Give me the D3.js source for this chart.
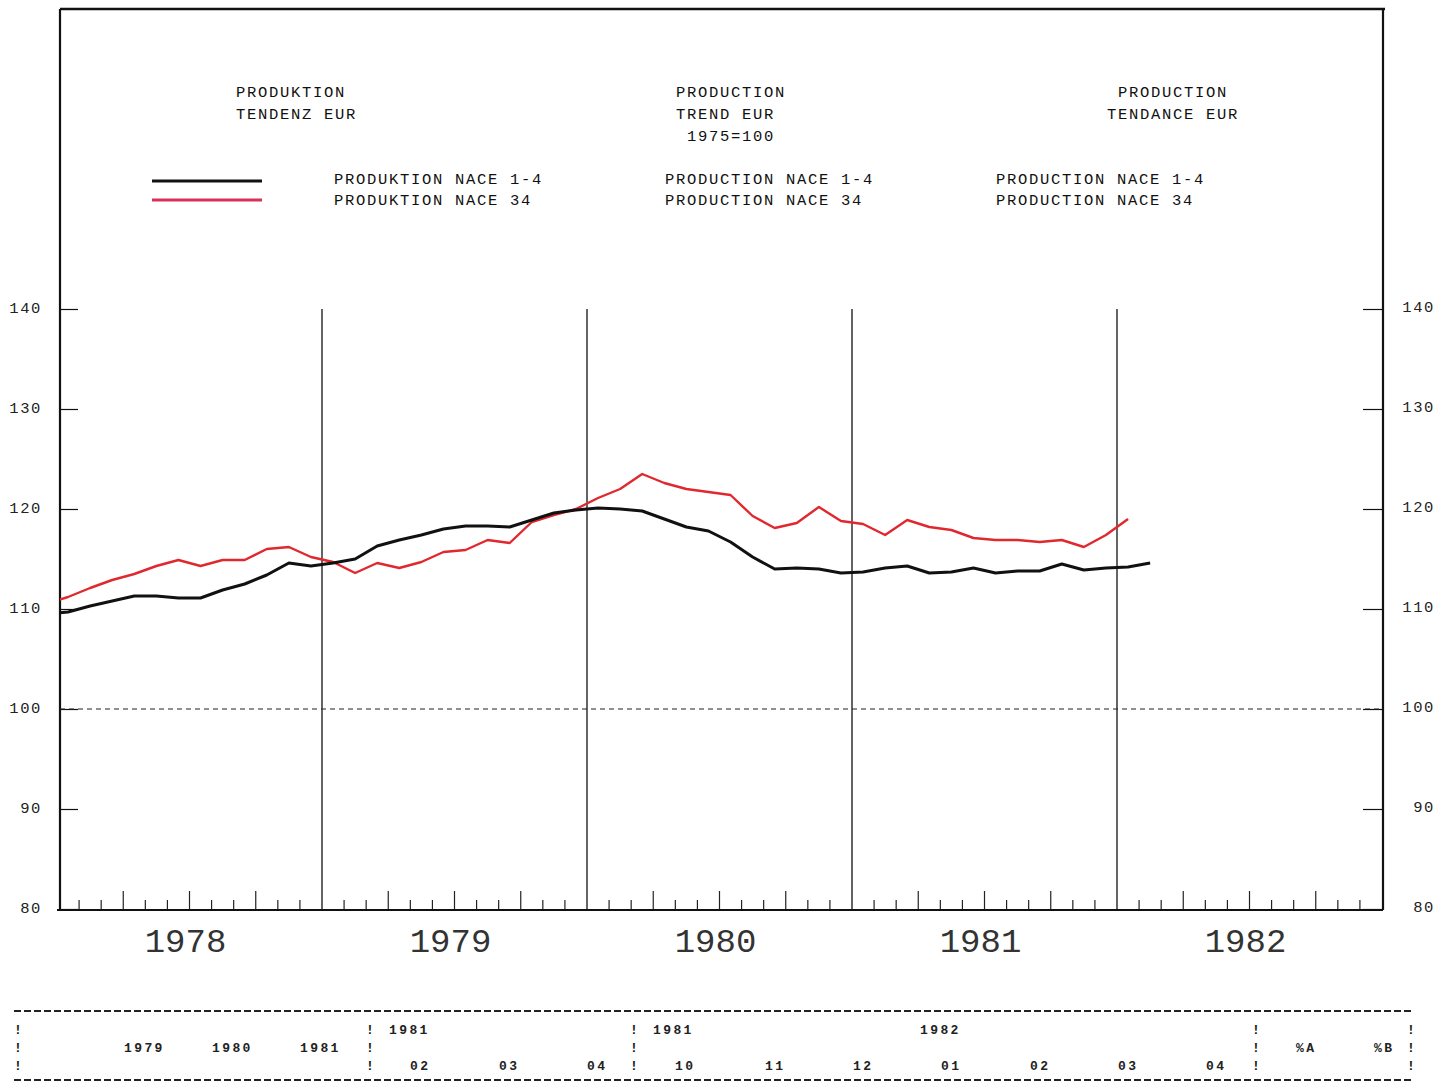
<!DOCTYPE html>
<html><head><meta charset="utf-8">
<script src="https://cdn.jsdelivr.net/npm/d3@7"></script>
<style>
html,body{margin:0;padding:0;background:#fff;}
svg{display:block;}
</style></head>
<body>
<svg id="c" width="1450" height="1084"></svg>
<script>
// ---------------- data ----------------
const months = [
 "1977-12",
 "1978-01","1978-02","1978-03","1978-04","1978-05","1978-06","1978-07","1978-08","1978-09","1978-10","1978-11","1978-12",
 "1979-01","1979-02","1979-03","1979-04","1979-05","1979-06","1979-07","1979-08","1979-09","1979-10","1979-11","1979-12",
 "1980-01","1980-02","1980-03","1980-04","1980-05","1980-06","1980-07","1980-08","1980-09","1980-10","1980-11","1980-12",
 "1981-01","1981-02","1981-03","1981-04","1981-05","1981-06","1981-07","1981-08","1981-09","1981-10","1981-11","1981-12",
 "1982-01","1982-02"
];
const nace14 = [
 109.5,
 109.7,110.3,110.8,111.3,111.3,111.1,111.1,111.9,112.5,113.4,114.6,114.3,
 114.6,115.0,116.3,116.9,117.4,118.0,118.3,118.3,118.2,118.9,119.6,119.9,
 120.1,120.0,119.8,119.0,118.2,117.8,116.7,115.2,114.0,114.1,114.0,113.6,
 113.7,114.1,114.3,113.6,113.7,114.1,113.6,113.8,113.8,114.5,113.9,114.1,
 114.2,114.6
];
const nace34 = [
 110.5,
 111.2,112.1,112.9,113.5,114.3,114.9,114.3,114.9,114.9,116.0,116.2,115.2,
 114.7,113.6,114.6,114.1,114.7,115.7,115.9,116.9,116.6,118.7,119.4,120.0,
 121.1,122.0,123.5,122.6,122.0,121.7,121.4,119.3,118.1,118.6,120.2,118.8,
 118.5,117.4,118.9,118.2,117.9,117.1,116.9,116.9,116.7,116.9,116.2,117.4,
 119.0
];
const years = [1978,1979,1980,1981,1982];
const yTicks = [80,90,100,110,120,130,140];
const titles = [
 ["PRODUKTION","TENDENZ EUR"],
 ["PRODUCTION","TREND EUR"," 1975=100"],
 ["PRODUCTION","TENDANCE EUR"]
];
const legendLabels = [
 ["PRODUKTION NACE 1-4","PRODUKTION NACE 34"],
 ["PRODUCTION NACE 1-4","PRODUCTION NACE 34"],
 ["PRODUCTION NACE 1-4","PRODUCTION NACE 34"]
];
const tableRow1 = [["1981",389],["1981",653],["1982",920]];
const tableRow2 = [["1979",124],["1980",212],["1981",300],["%A",1296],["%B",1374]];
const tableRow3 = [["02",410],["03",499],["04",587],["10",675],["11",765],["12",853],["01",941],["02",1030],["03",1118],["04",1206]];
const tableBars = [18,370,634,1256,1411];

// ---------------- layout ----------------
const svg = d3.select("#c");
const FONT = "'Liberation Mono','DejaVu Sans Mono',monospace";
const pL = 57, pR = 1382, pT = 309, pB = 909;
const x = d3.scaleLinear().domain([0, 60]).range([pL, pR]);
const y = d3.scaleLinear().domain([80, 140]).range([pB, pT]);
const tOf = s => { const [yy, mm] = s.split("-").map(Number); return (yy - 1978) * 12 + (mm - 1) + 0.5; };

// frame
const frameL = 60, frameR = 1383, frameT = 9;
svg.append("line").attr("x1", frameL).attr("x2", frameR + 2).attr("y1", frameT).attr("y2", frameT)
  .attr("stroke", "#111").attr("stroke-width", 2.5);
svg.append("line").attr("x1", frameL).attr("x2", frameL).attr("y1", frameT).attr("y2", pB + 1)
  .attr("stroke", "#111").attr("stroke-width", 2.2);
svg.append("line").attr("x1", frameR).attr("x2", frameR).attr("y1", frameT).attr("y2", pB + 1)
  .attr("stroke", "#111").attr("stroke-width", 2.2);

// x axis base
svg.append("line").attr("x1", pL).attr("x2", pR + 1).attr("y1", pB + 1).attr("y2", pB + 1)
  .attr("stroke", "#111").attr("stroke-width", 2.2);

// month ticks
const mt = d3.range(1, 60).filter(m => m % 12 !== 0);
svg.append("g").selectAll("line").data(mt).join("line")
  .attr("x1", d => x(d)).attr("x2", d => x(d))
  .attr("y1", pB).attr("y2", d => pB - (d % 3 === 0 ? 18 : 9))
  .attr("stroke", "#222").attr("stroke-width", 1.2);

// year lines
svg.append("g").selectAll("line").data([12, 24, 36, 48]).join("line")
  .attr("x1", d => x(d)).attr("x2", d => x(d))
  .attr("y1", pT).attr("y2", pB)
  .attr("stroke", "#111").attr("stroke-width", 1.3);

// year labels
svg.append("g").selectAll("text").data(years).join("text")
  .attr("x", d => x((d - 1978) * 12 + 6)).attr("dx", -4).attr("y", 952)
  .attr("text-anchor", "middle")
  .attr("font-family", FONT).attr("font-size", 34).attr("fill", "#333")
  .text(d => d);

// y axis left
const yl = svg.append("g").attr("transform", `translate(${frameL},0)`)
  .call(d3.axisLeft(y).tickValues(yTicks).tickSize(-18).tickPadding(18).tickFormat(d3.format("d")));
yl.select(".domain").remove();
yl.selectAll(".tick line").attr("stroke", "#111").attr("stroke-width", 1.2);
yl.selectAll(".tick text").attr("font-family", FONT).attr("font-size", 15.5).attr("fill", "#222")
  .attr("letter-spacing", 1.6).attr("dy", "0.2em");

// y axis right
const yr = svg.append("g").attr("transform", `translate(${frameR},0)`)
  .call(d3.axisRight(y).tickValues(yTicks).tickSize(-20).tickPadding(52).tickFormat(d3.format("d")));
yr.select(".domain").remove();
yr.selectAll(".tick line").attr("stroke", "#111").attr("stroke-width", 1.2);
yr.selectAll(".tick text").attr("font-family", FONT).attr("font-size", 15.5).attr("fill", "#222")
  .attr("letter-spacing", 1.6).attr("text-anchor", "end").attr("dy", "0.15em");

// 100 dashed reference
svg.append("line").attr("x1", frameL).attr("x2", frameR).attr("y1", y(100)).attr("y2", y(100))
  .attr("stroke", "#222").attr("stroke-width", 1.1).attr("stroke-dasharray", "5,4");

// clip
svg.append("clipPath").attr("id", "clip").append("rect")
  .attr("x", frameL).attr("y", frameT).attr("width", frameR - frameL).attr("height", pB - frameT);

const line = d3.line().x(d => x(tOf(d[0]))).y(d => y(d[1]));
const g = svg.append("g").attr("clip-path", "url(#clip)");
g.append("path").datum(months.slice(0, nace34.length).map((m, i) => [m, nace34[i]]))
  .attr("d", line).attr("fill", "none").attr("stroke", "#e0282e").attr("stroke-width", 2.4)
  .attr("stroke-linejoin", "round");
g.append("path").datum(months.slice(0, nace14.length).map((m, i) => [m, nace14[i]]))
  .attr("d", line).attr("fill", "none").attr("stroke", "#111").attr("stroke-width", 3)
  .attr("stroke-linejoin", "round");

// titles
const txt = (s, tx, ty, size, ls, fill) => svg.append("text").attr("x", tx).attr("y", ty)
  .attr("font-family", FONT).attr("font-size", size).attr("letter-spacing", ls)
  .attr("fill", fill || "#111").attr("xml:space", "preserve").style("white-space", "pre").text(s);

const titleX = [236, 676, 1107];
titles.forEach((lines, k) => {
  lines.forEach((s, j) => {
    let tx = titleX[k];
    if (k === 2 && j === 0) tx = 1118;
    txt(s, tx, 97 + j * 22, 15.5, 1.7);
  });
});

// legend
svg.append("line").attr("x1", 152).attr("x2", 262).attr("y1", 181).attr("y2", 181)
  .attr("stroke", "#111").attr("stroke-width", 3);
svg.append("line").attr("x1", 152).attr("x2", 262).attr("y1", 200).attr("y2", 200)
  .attr("stroke", "#d8305a").attr("stroke-width", 3);
const legX = [334, 665, 996];
legendLabels.forEach((lines, k) => {
  lines.forEach((s, j) => txt(s, legX[k], 184 + j * 21, 15.5, 1.7));
});

// bottom table
[1011, 1080].forEach(yy => svg.append("line").attr("x1", 14).attr("x2", 1414).attr("y1", yy).attr("y2", yy)
  .attr("stroke", "#222").attr("stroke-width", 2).attr("stroke-dasharray", "7,3"));
const rowY = [1034, 1052, 1070];
tableBars.forEach(bx => rowY.forEach(ry => txt("!", bx - 4, ry, 13, 0, "#222").attr("font-weight", "bold")));
tableRow1.forEach(([s, tx]) => txt(s, tx, rowY[0], 13, 2.4, "#222").attr("font-weight", "bold"));
tableRow2.forEach(([s, tx]) => txt(s, tx, rowY[1], 13, 2.4, "#222").attr("font-weight", "bold"));
tableRow3.forEach(([s, tx]) => txt(s, tx, rowY[2], 13, 2.4, "#222").attr("font-weight", "bold"));
</script>
</body></html>
